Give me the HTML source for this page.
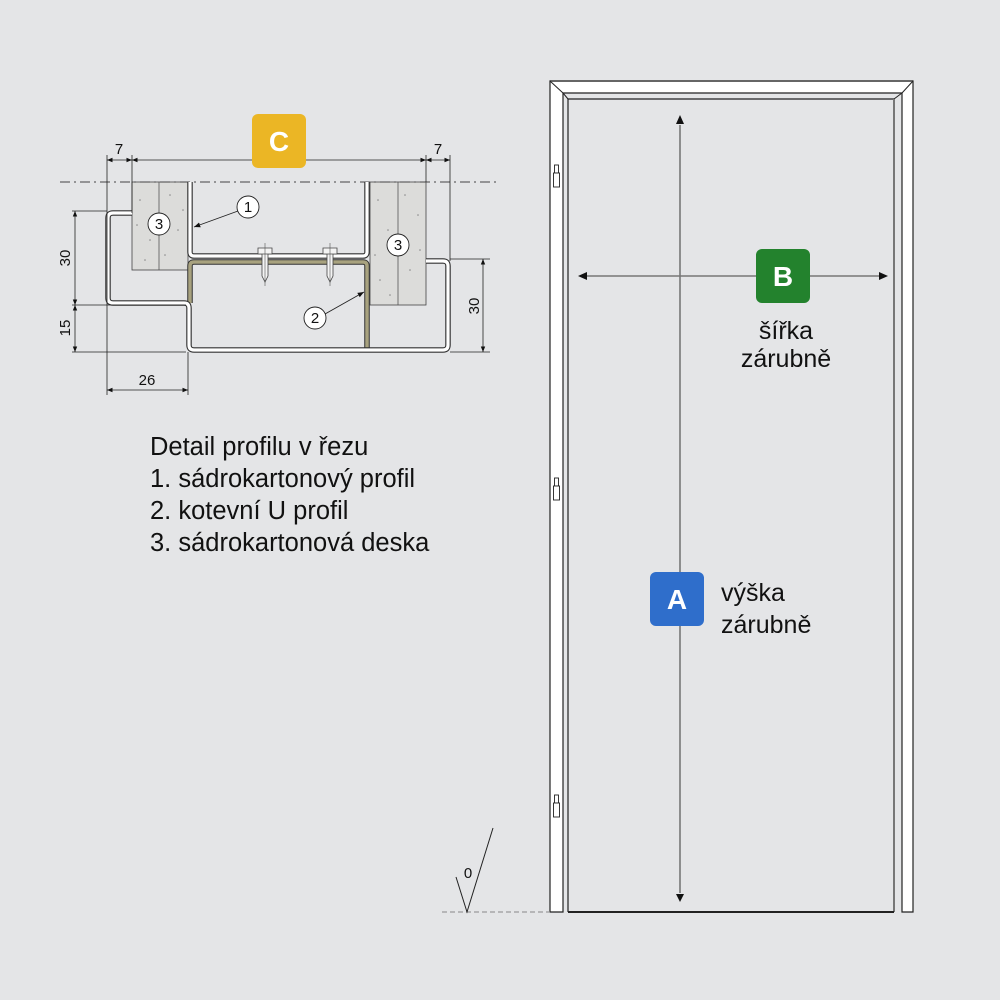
<!DOCTYPE html>
<html><head><meta charset="utf-8"><style>
html,body{margin:0;padding:0;background:#e4e5e7;}
svg{display:block}
text{font-family:"Liberation Sans",Arial,sans-serif;}
</style></head><body>
<svg width="1000" height="1000" viewBox="0 0 1000 1000" xmlns="http://www.w3.org/2000/svg">
<rect width="1000" height="1000" fill="#e4e5e7"/>
<defs>
<marker id="as" viewBox="0 0 10 10" refX="10" refY="5" markerWidth="7" markerHeight="7" orient="auto-start-reverse"><path d="M0,1 L10,5 L0,9 z" fill="#111"/></marker>
</defs>

<!-- boards -->
<rect x="132" y="182" width="56" height="88" fill="#dcdcda" stroke="#444" stroke-width="0.8"/>
<line x1="159" y1="182" x2="159" y2="270" stroke="#555" stroke-width="0.8"/>
<rect x="370" y="182" width="56" height="123" fill="#dcdcda" stroke="#444" stroke-width="0.8"/>
<line x1="398" y1="182" x2="398" y2="305" stroke="#555" stroke-width="0.8"/>
<g fill="#888">
<circle cx="140" cy="200" r="0.8"/><circle cx="150" cy="240" r="0.8"/><circle cx="170" cy="195" r="0.8"/><circle cx="178" cy="230" r="0.8"/><circle cx="145" cy="260" r="0.8"/><circle cx="165" cy="255" r="0.8"/><circle cx="183" cy="210" r="0.8"/><circle cx="137" cy="225" r="0.8"/>
<circle cx="378" cy="200" r="0.8"/><circle cx="388" cy="230" r="0.8"/><circle cx="405" cy="195" r="0.8"/><circle cx="418" cy="215" r="0.8"/><circle cx="380" cy="280" r="0.8"/><circle cx="410" cy="270" r="0.8"/><circle cx="390" cy="295" r="0.8"/><circle cx="420" cy="250" r="0.8"/><circle cx="375" cy="255" r="0.8"/>
</g>
<line x1="60" y1="182" x2="500" y2="182" stroke="#444" stroke-width="0.9" stroke-dasharray="10,4,2,4"/>

<path d="M190,182 L190,252 Q190,256 194,256 L363,256 Q367,256 367,252 L367,182" fill="none" stroke="#333" stroke-width="5.5"/>
<path d="M190,182 L190,252 Q190,256 194,256 L363,256 Q367,256 367,252 L367,182" fill="none" stroke="#fff" stroke-width="3.2"/>
<path d="M190,303 L190,266 Q190,262 194,262 L363,262 Q367,262 367,266 L367,350" fill="none" stroke="#333" stroke-width="5.5"/>
<path d="M190,303 L190,266 Q190,262 194,262 L363,262 Q367,262 367,266 L367,350" fill="none" stroke="#a8a27f" stroke-width="3.5"/>
<path d="M132,213 L113,213 Q108,213 108,218 L108,298 Q108,303 113,303 L184,303 Q189,303 189,308 L189,345 Q189,350 194,350 L443,350 Q448,350 448,345 L448,266 Q448,261 443,261 L426,261" fill="none" stroke="#333" stroke-width="5.5"/>
<path d="M132,213 L113,213 Q108,213 108,218 L108,298 Q108,303 113,303 L184,303 Q189,303 189,308 L189,345 Q189,350 194,350 L443,350 Q448,350 448,345 L448,266 Q448,261 443,261 L426,261" fill="none" stroke="#fff" stroke-width="3.2"/>
<g fill="#f4f4f4" stroke="#444" stroke-width="0.8">
<path d="M258,248 h14 v6 h-14 z M262,254 h6 v22 l-3,6 l-3,-6 z"/>
<path d="M323,248 h14 v6 h-14 z M327,254 h6 v22 l-3,6 l-3,-6 z"/>
</g>
<line x1="265" y1="243" x2="265" y2="286" stroke="#555" stroke-width="0.6"/>
<line x1="330" y1="243" x2="330" y2="286" stroke="#555" stroke-width="0.6"/>

<g stroke="#222" stroke-width="0.8" fill="none">
<line x1="107" y1="155" x2="107" y2="395"/>
<line x1="132" y1="155" x2="132" y2="213"/>
<line x1="426" y1="155" x2="426" y2="182"/>
<line x1="450" y1="155" x2="450" y2="261"/>
<line x1="107" y1="160" x2="132" y2="160" marker-start="url(#as)" marker-end="url(#as)"/>
<line x1="132" y1="160" x2="426" y2="160" marker-start="url(#as)" marker-end="url(#as)"/>
<line x1="426" y1="160" x2="450" y2="160" marker-start="url(#as)" marker-end="url(#as)"/>
<line x1="72" y1="211" x2="107" y2="211"/>
<line x1="72" y1="305" x2="186" y2="305"/>
<line x1="72" y1="352" x2="186" y2="352"/>
<line x1="75" y1="211" x2="75" y2="305" marker-start="url(#as)" marker-end="url(#as)"/>
<line x1="75" y1="305" x2="75" y2="352" marker-start="url(#as)" marker-end="url(#as)"/>
<line x1="188" y1="352" x2="188" y2="395"/>
<line x1="107" y1="390" x2="188" y2="390" marker-start="url(#as)" marker-end="url(#as)"/>
<line x1="450" y1="259" x2="490" y2="259"/>
<line x1="450" y1="352" x2="490" y2="352"/>
<line x1="483" y1="259" x2="483" y2="352" marker-start="url(#as)" marker-end="url(#as)"/>
</g>
<g font-size="15" fill="#111" text-anchor="middle">
<text x="119" y="154">7</text>
<text x="438" y="154">7</text>
<text x="147" y="385">26</text>
<text transform="translate(70,258) rotate(-90)">30</text>
<text transform="translate(70,328) rotate(-90)">15</text>
<text transform="translate(479,306) rotate(-90)">30</text>
</g>
<g stroke="#222" stroke-width="0.9">
<line x1="238" y1="211" x2="194" y2="227" marker-end="url(#as)"/>
<line x1="325" y1="314" x2="364" y2="292" marker-end="url(#as)"/>
</g>
<g fill="#fff" stroke="#222" stroke-width="0.9">
<circle cx="248" cy="207" r="11"/><circle cx="159" cy="224" r="11"/><circle cx="398" cy="245" r="11"/><circle cx="315" cy="318" r="11"/>
</g>
<g font-size="15" fill="#111" text-anchor="middle">
<text x="248" y="212">1</text><text x="159" y="229">3</text><text x="398" y="250">3</text><text x="315" y="323">2</text>
</g>
<rect x="252" y="114" width="54" height="54" rx="6" fill="#ebb625"/>
<text x="279" y="151" font-size="28" font-weight="bold" fill="#fff" text-anchor="middle">C</text>

<g font-size="25.5" fill="#111">
<text x="150" y="455">Detail profilu v řezu</text>
<text x="150" y="487">1. sádrokartonový profil</text>
<text x="150" y="519">2. kotevní U profil</text>
<text x="150" y="551">3. sádrokartonová deska</text>
</g>

<!-- DOOR -->
<path d="M550,81 L913,81 L913,912 L902,912 L902,93 L563,93 L563,912 L550,912 Z" fill="#fff" stroke="#222" stroke-width="1.2"/>
<line x1="550" y1="81" x2="913" y2="81" stroke="#666" stroke-width="2"/>
<path d="M568,912 L568,99 L894,99 L894,912" fill="none" stroke="#222" stroke-width="1.2"/>
<line x1="563" y1="93" x2="568" y2="99" stroke="#222"/><line x1="902" y1="93" x2="894" y2="99" stroke="#222"/>
<line x1="550" y1="81" x2="563" y2="93" stroke="#222"/><line x1="913" y1="81" x2="902" y2="93" stroke="#222"/>
<line x1="894" y1="99" x2="894" y2="912" stroke="#777" stroke-width="2"/>
<line x1="568" y1="912" x2="894" y2="912" stroke="#222" stroke-width="2"/>
<g fill="#fff" stroke="#222" stroke-width="0.9">
<rect x="554.5" y="165" width="4" height="8"/><rect x="553.5" y="173" width="6" height="14"/>
<rect x="554.5" y="478" width="4" height="8"/><rect x="553.5" y="486" width="6" height="14"/>
<rect x="554.5" y="795" width="4" height="8"/><rect x="553.5" y="803" width="6" height="14"/>
</g>
<line x1="680" y1="125" x2="680" y2="893" stroke="#777" stroke-width="1.6"/>
<path d="M676,124 L684,124 L680,115 Z M676,894 L684,894 L680,902 Z" fill="#111"/>
<line x1="586" y1="276" x2="880" y2="276" stroke="#777" stroke-width="1.6"/>
<path d="M587,272 L587,280 L578,276 Z M879,272 L879,280 L888,276 Z" fill="#111"/>
<rect x="756" y="249" width="54" height="54" rx="6" fill="#23822d"/>
<text x="783" y="286" font-size="28" font-weight="bold" fill="#fff" text-anchor="middle">B</text>
<g font-size="25" fill="#111" text-anchor="middle">
<text x="786" y="339">šířka</text><text x="786" y="367">zárubně</text>
</g>
<rect x="650" y="572" width="54" height="54" rx="6" fill="#2f6ecb"/>
<text x="677" y="609" font-size="28" font-weight="bold" fill="#fff" text-anchor="middle">A</text>
<g font-size="25" fill="#111">
<text x="721" y="601">výška</text><text x="721" y="633">zárubně</text>
</g>
<line x1="442" y1="912" x2="550" y2="912" stroke="#888" stroke-width="1" stroke-dasharray="5,3"/>
<path d="M456,877 L467,912 L493,828" fill="none" stroke="#222" stroke-width="1"/>
<text x="468" y="878" font-size="15" fill="#111" text-anchor="middle">0</text>
</svg>
</body></html>
